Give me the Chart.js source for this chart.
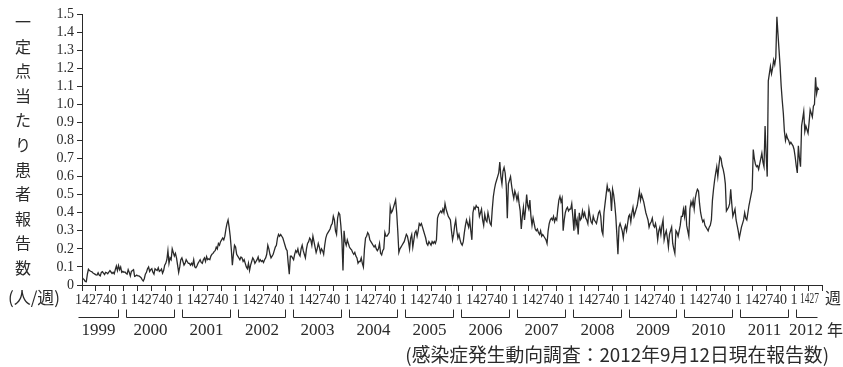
<!DOCTYPE html>
<html>
<head>
<meta charset="utf-8">
<script src="https://cdn.jsdelivr.net/npm/chart.js@4"></script>
<style>
  html, body { margin: 0; padding: 0; background: #fff; }
  #wrap { width: 843px; height: 367px; }
</style>
</head>
<body>
<div id="wrap"><canvas id="myChart" width="843" height="367"></canvas></div>
<script>
// 週ごとの定点当たり報告数 (1999年は第14週から)
const y1999 = [.042,.035,.03,.02,.018,.06,.087,.08,.076,.074, .068,.064,.06,.056,.055,.068,.055,.05,.07,.074,
  .066,.058,.07,.068,.062,.072,.08,.072,.064,.07, .062,.085,.105,.08,.108,.085,.1,.07,.075];
const y2000 = [.07,.072,.065,.06,.085,.07,.05,.075,.08,.085, .048,.05,.055,.05,.05,.045,.04,.03,.022,.035,
  .06,.07,.09,.1,.075,.085,.09,.07,.06,.09, .085,.08,.095,.075,.08,.088,.065,.08,.11,.12,
  .14,.19,.12,.15,.14,.2,.18,.16,.175,.15, .11,.07];
const y2001 = [.1,.14,.15,.13,.11,.12,.14,.13,.12,.12, .11,.12,.11,.14,.1,.095,.105,.12,.13,.14,
  .125,.12,.14,.15,.13,.157,.14,.145,.14,.16, .17,.175,.185,.19,.21,.2,.23,.22,.24,.25,
  .26,.25,.27,.31,.34,.36,.32,.27,.2,.11, .17,.22];
const y2002 = [.21,.17,.16,.15,.14,.155,.15,.13,.14,.12, .10,.09,.12,.08,.11,.13,.15,.14,.12,.13,
  .14,.155,.13,.14,.13,.135,.125,.14,.15,.17, .22,.2,.17,.15,.16,.17,.19,.21,.22,.26,
  .28,.27,.28,.27,.26,.24,.22,.2,.19,.12, .06,.16];
const y2003 = [.16,.15,.14,.17,.19,.18,.2,.17,.16,.2, .22,.19,.17,.15,.2,.23,.24,.26,.25,.22,
  .27,.24,.21,.18,.2,.23,.21,.18,.2,.19, .17,.22,.26,.28,.29,.3,.31,.33,.34,.38,
  .36,.3,.28,.37,.4,.39,.33,.25,.08,.3, .24,.22];
const y2004 = [.25,.23,.21,.2,.195,.18,.17,.18,.16,.15, .12,.13,.13,.15,.12,.1,.2,.26,.27,.29,
  .28,.25,.24,.23,.22,.21,.22,.2,.19,.2, .23,.175,.166,.19,.2,.29,.27,.27,.28,.29,
  .43,.4,.41,.43,.45,.47,.4,.3,.18,.2, .21,.22];
const y2005 = [.23,.24,.26,.28,.27,.24,.2,.26,.28,.21, .25,.29,.3,.27,.3,.34,.33,.34,.32,.3,
  .28,.26,.23,.22,.24,.23,.22,.24,.23,.24, .23,.25,.37,.39,.4,.41,.4,.42,.4,.45,
  .42,.4,.38,.37,.36,.3,.25,.28,.33,.36, .3,.26];
const y2006 = [.28,.25,.23,.22,.24,.29,.33,.36,.34,.32, .36,.3,.25,.4,.43,.42,.44,.43,.43,.38,
  .4,.42,.36,.33,.39,.36,.35,.4,.37,.34, .33,.42,.49,.53,.56,.58,.6,.62,.68,.6,
  .56,.63,.65,.62,.55,.37,.56,.58,.6,.55, .51,.48];
const y2007 = [.52,.5,.47,.5,.45,.41,.31,.38,.43,.36, .42,.5,.44,.42,.47,.38,.33,.37,.34,.31,
  .3,.31,.29,.28,.3,.27,.28,.27,.26,.25, .23,.3,.34,.36,.37,.36,.38,.35,.37,.36,
  .42,.47,.49,.46,.48,.3,.36,.4,.42,.43, .41,.42];
const y2008 = [.42,.45,.38,.3,.42,.33,.36,.28,.4,.36, .37,.41,.38,.4,.37,.36,.34,.42,.38,.35,
  .34,.38,.36,.35,.34,.37,.4,.41,.38,.3, .28,.4,.45,.5,.55,.52,.53,.51,.41,.53,
  .5,.45,.38,.28,.17,.32,.34,.32,.3,.26, .31,.33];
const y2009 = [.3,.34,.38,.39,.35,.4,.43,.38,.4,.42, .44,.48,.52,.47,.5,.48,.46,.43,.4,.38,
  .36,.32,.34,.35,.37,.33,.32,.34,.31,.25, .3,.32,.28,.33,.36,.25,.28,.3,.26,.21,
  .28,.3,.32,.23,.2,.175,.3,.29,.27,.3, .33,.38];
const y2010 = [.38,.42,.38,.44,.33,.3,.27,.42,.46,.44, .47,.42,.48,.51,.53,.52,.45,.4,.37,.35,
  .36,.33,.32,.31,.3,.32,.33,.36,.47,.53, .58,.62,.655,.6,.66,.71,.7,.66,.64,.61,
  .56,.41,.42,.43,.45,.53,.45,.38,.4,.42, .36,.33];
const y2011 = [.3,.26,.29,.32,.34,.36,.4,.37,.36,.4, .44,.47,.5,.53,.75,.7,.67,.655,.66,.64,
  .67,.7,.73,.68,.655,.88,.72,.6,1.13,1.17, 1.21,1.17,1.2,1.245,1.22,1.26,1.485,1.39,1.3,1.21,
  1.1,1.02,.95,.85,.8,.83,.81,.8,.78,.79, .78,.77];
const y2012 = [.75,.71,.66,.62,.77,.7,.655,.88,.92,.96, .85,.88,.86,.84,.9,.97,.95,.93,.99,1.0,
  1.15,1.06,1.09,1.08];

const years = ['1999','2000','2001','2002','2003','2004','2005','2006','2007','2008','2009','2010','2011','2012'];
const weekTicks = ['1', '14', '27', '40'];
const yTicks = ['0','0.1','0.2','0.3','0.4','0.5','0.6','0.7','0.8','0.9','1.0','1.1','1.2','1.3','1.4','1.5'];
const weekly = [y1999, y2000, y2001, y2002, y2003, y2004, y2005, y2006, y2007, y2008, y2009, y2010, y2011, y2012];

// 週番号 -> x (1999年第14週を0とする)
function yearStart(i) { return i === 0 ? -13 : 39 + (i - 1) * 52; }
const xMax = yearStart(13) + 26; // 2012年第27週で軸が終わる
const x14 = yearStart(13) + 13;

const points = [];
weekly.forEach((arr, i) => {
    const s = i === 0 ? 0 : yearStart(i);
    arr.forEach((v, j) => points.push({ x: s + j, y: v }));
});

const tickPos = [], tickText = {};
years.forEach((yr, i) => {
    weekTicks.forEach((w, k) => {
        const v = yearStart(i) + k * 13;
        if (v >= 0 && v <= xMax) { tickPos.push(v); tickText[v] = w; }
    });
});

const SERIF = "'Liberation Serif', 'DejaVu Serif', serif";
const JP = "'Noto Sans CJK JP', sans-serif";
const INK = '#2a2a2a';

const extraText = {
    id: 'extraText',
    afterDraw(chart) {
        const ctx = chart.ctx;
        const xs = chart.scales.x;
        ctx.save();
        ctx.fillStyle = INK;
        ctx.strokeStyle = INK;
        ctx.lineWidth = 1;

        // 2012年の「14」「27」は「週」と重ならないよう詰めて書く
        ctx.font = '14px ' + SERIF;
        ctx.textAlign = 'left';
        ctx.textBaseline = 'middle';
        const l14 = xs.getPixelForValue(yearStart(13)) + 6;
        const r27 = xs.getPixelForValue(xMax) - 3;
        ctx.fillText(tickText[x14] + tickText[xMax], l14, 299, r27 - l14);

        // 年の括弧と年ラベル
        const by = 317.5, hook = 8;
        years.forEach((yr, i) => {
            const first = i === 0, last = i === years.length - 1;
            let l = xs.getPixelForValue(first ? 0 : yearStart(i)) + (first ? -4 : 2);
            let r = last ? xs.getPixelForValue(xMax) - 5 : xs.getPixelForValue(yearStart(i + 1)) - 6;
            l = Math.round(l) + 0.5; r = Math.round(r) + 0.5;
            ctx.beginPath();
            if (!first) { ctx.moveTo(l, by - hook); ctx.lineTo(l, by); } else { ctx.moveTo(l, by); }
            ctx.lineTo(r, by);
            if (!last) ctx.lineTo(r, by - hook);
            ctx.stroke();
            ctx.font = '17px ' + SERIF;
            ctx.textAlign = 'center';
            ctx.textBaseline = 'middle';
            ctx.fillText(yr, last ? (l + r) / 2 - 1 : (l + r) / 2, 331);
        });

        ctx.font = '16px ' + JP;
        ctx.textAlign = 'center';
        ctx.textBaseline = 'middle';
        ctx.fillText('週', 833, 298);
        ctx.fillText('年', 835, 330);

        // 縦書きの軸タイトル
        const title = '一定点当たり患者報告数'.split('');
        title.forEach((c, i) => ctx.fillText(c, 23, 22 + i * 24.6));
        ctx.font = '17px ' + JP;
        ctx.fillText('(人/週)', 34, 298);

        ctx.font = '18.8px ' + JP;
        ctx.textAlign = 'right';
        ctx.fillText('(感染症発生動向調査：2012年9月12日現在報告数)', 829, 355);
        ctx.restore();
    }
};

const ctx = document.getElementById('myChart').getContext('2d');
const myChart = new Chart(ctx, {
    type: 'line',
    data: {
        datasets: [{
            data: points,
            borderColor: INK,
            borderWidth: 1.3,
            pointRadius: 0,
            tension: 0,
            fill: false
        }]
    },
    options: {
        responsive: false,
        animation: false,
        devicePixelRatio: 1,
        layout: { padding: { left: 0, right: 21, top: 14, bottom: 0 } },
        plugins: { legend: { display: false }, tooltip: { enabled: false } },
        scales: {
            x: {
                type: 'linear',
                min: 0,
                max: xMax,
                afterBuildTicks: (scale) => { scale.ticks = tickPos.map(v => ({ value: v })); },
                afterFit: (scale) => { scale.height = 82; },
                border: { display: true, color: INK, width: 1 },
                grid: { drawOnChartArea: false, drawTicks: true, tickLength: 6, color: INK },
                ticks: {
                    autoSkip: false, maxRotation: 0, minRotation: 0,
                    padding: 1,
                    color: INK,
                    font: { family: SERIF, size: 14 },
                    callback: (v) => (v === xMax || v === x14 ? '' : tickText[v])
                }
            },
            y: {
                min: 0,
                max: 1.5,
                afterFit: (scale) => { scale.width = 82; },
                border: { display: true, color: INK, width: 1 },
                grid: { drawOnChartArea: false, drawTicks: true, tickLength: 5, color: INK },
                ticks: {
                    autoSkip: false,
                    stepSize: 0.1,
                    padding: 3,
                    color: INK,
                    font: { family: SERIF, size: 14 },
                    callback: (v) => yTicks[Math.round(v * 10)]
                }
            }
        }
    },
    plugins: [extraText]
});
</script>
</body>
</html>
